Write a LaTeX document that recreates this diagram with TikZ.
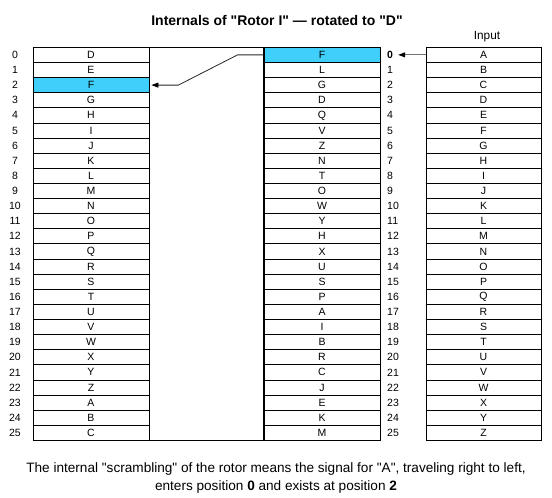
\documentclass[tikz,border=0pt]{standalone}
\usepackage{fontspec}
\setmainfont{Liberation Sans}[Ligatures=TeXOff]
\usepackage{xcolor}
\usetikzlibrary{arrows.meta}
\definecolor{hilite}{RGB}{64,207,250}

\begin{document}
\begin{tikzpicture}[x=1pt, y=-1pt,
    cell/.style={rectangle, draw=black, line width=0.8pt, minimum width=116pt, minimum height=15.12pt, inner sep=0pt, font=\fontsize{10.5}{12}\selectfont},
    num/.style={inner sep=0pt, font=\fontsize{10.5}{12}\selectfont},
    arrow/.style={-{Triangle[length=7pt, width=5pt, color=black]}, line width=0.8pt}
]
    \useasboundingbox (0,0) rectangle (552,498);

    % Titel
    \node[font=\bfseries\fontsize{14}{16}\selectfont] (title) at (277,20.5) {Internals of "Rotor I" — rotated to "D"};
    \node[font=\fontsize{11.8}{13}\selectfont] (input) at (487,37) {Input};

    % Lewa kolumna - wyjscie
    \foreach \ltr [count=\i from 0] in {D,E,F,G,H,I,J,K,L,M,N,O,P,Q,R,S,T,U,V,W,X,Y,Z,A,B,C} {
        \ifnum\i=2 \def\bg{hilite}\else\def\bg{white}\fi
        \node[cell, fill=\bg] (l\i) at (91, 54.86+15.12*\i) {\ltr};
        \node[num] (nl\i) at (15, 54.86+15.12*\i) {\i};
    }

    % Srodkowa kolumna - okablowanie
    \foreach \ltr [count=\i from 0] in {F,L,G,D,Q,V,Z,N,T,O,W,Y,H,X,U,S,P,A,I,B,R,C,J,E,K,M} {
        \ifnum\i=0 \def\bg{hilite}\else\def\bg{white}\fi
        \node[cell, fill=\bg] (m\i) at (322, 54.86+15.12*\i) {\ltr};
        \ifnum\i=0
            \node[num, anchor=west, font=\bfseries\fontsize{10.5}{12}\selectfont] (nr\i) at (387, 54.86+15.12*\i) {\i};
        \else
            \node[num, anchor=west] (nr\i) at (387, 54.86+15.12*\i) {\i};
        \fi
    }

    % Prawa kolumna - wejscie
    \foreach \ltr [count=\i from 0] in {A,B,C,D,E,F,G,H,I,J,K,L,M,N,O,P,Q,R,S,T,U,V,W,X,Y,Z} {
        \node[cell, minimum width=115pt] (r\i) at (483.5, 54.86+15.12*\i) {\ltr};
    }

    % Pusty blok
    \draw[line width=0.8pt] (l0.north east) rectangle (m25.south west);

    % Strzalki
    \draw[arrow, black!55] (r0.west) -- ([xshift=5pt]nr0.east);
    \draw[arrow, black!85] (m0.west) -- ++(-26,0) -- ([xshift=29pt]l2.east) -- ([xshift=2pt]l2.east);

    % Podpis
    \node[align=center, font=\fontsize{13.6}{18}\selectfont] (caption) at (276,478) {The internal "scrambling" of the rotor means the signal for "A", traveling right to left,\\enters position \textbf{0} and exists at position \textbf{2}};
\end{tikzpicture}
\end{document}
